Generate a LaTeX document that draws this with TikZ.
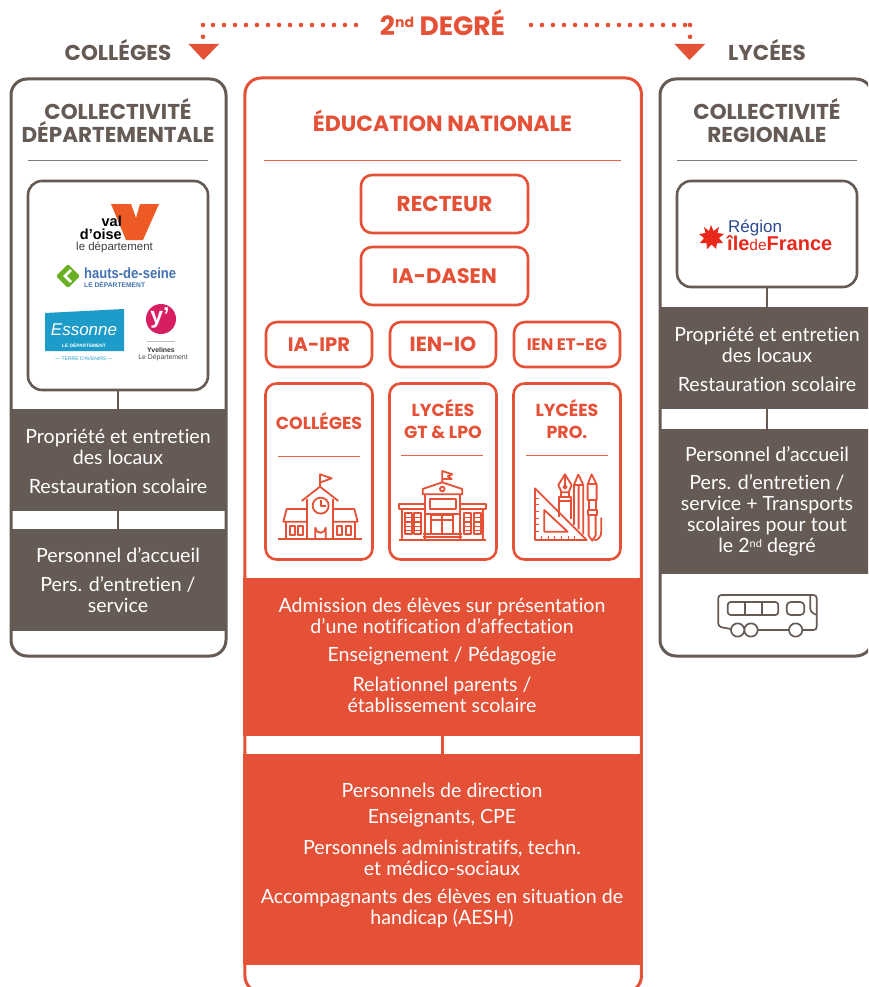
\documentclass[tikz,border=0pt]{standalone}
\usepackage{fontspec}
\setmainfont{Lato}[Ligatures=NoCommon]
\newfontfamily\hdf{Poppins}[BoldFont=Poppins Bold]
\newfontfamily\logof{Liberation Sans}
\definecolor{org}{HTML}{E55137}
\definecolor{brn}{HTML}{655A54}
\definecolor{hdsgreen}{HTML}{6AB023}
\definecolor{hdsblue}{HTML}{4472B4}
\definecolor{essblue}{HTML}{1E9CC9}
\definecolor{yvpink}{HTML}{D81E63}
\definecolor{idfred}{HTML}{E8281A}
\definecolor{idfblue}{HTML}{2E4A8E}
\definecolor{vofor}{HTML}{EE5A24}
\tikzset{
  bigbox/.style={draw=#1,line width=3pt,rounded corners=16pt,fill=white,inner sep=0pt,outer sep=0pt},
  orgbox/.style={draw=org,line width=2.6pt,rounded corners=11pt,fill=white,inner sep=0pt,outer sep=0pt,text=org,font=\hdf\bfseries\fontsize{20.5}{22}\selectfont,align=center},
  cardtext/.style={text=org,font=\hdf\bfseries\fontsize{17.4}{22}\selectfont,align=center,inner sep=0pt},
  logobox/.style={draw=brn,line width=2.6pt,rounded corners=14pt,fill=white,inner sep=0pt,outer sep=0pt},
  band/.style={fill=#1,inner sep=0pt,outer sep=0pt},
  body/.style={text=white,font=\fontsize{19.6}{21}\selectfont,align=center,inner sep=0pt},
  head/.style={text=#1,font=\hdf\bfseries\fontsize{21.5}{23}\selectfont,align=center,inner sep=0pt},
  rulerb/.style={draw=brn!80,line width=1pt},
  ruleo/.style={draw=org!90,line width=1pt},
  link/.style={draw=#1,line width=2.5pt},
  dotl/.style={draw=org,line width=4.6pt,line cap=round,dash pattern=on 0pt off 11pt},
  dotd/.style={draw=org,line width=4.6pt,line cap=round,dash pattern=on 0pt off 11.8pt},
  icon/.style={draw=org,line width=1.8pt,line join=round},
  busicon/.style={draw=brn,line width=1.7pt,line join=round},
}
\begin{document}
\begin{tikzpicture}[x=1pt,y=-1pt]
\path[use as bounding box,clip] (0,0) rectangle (868,987);
\fill[white] (0,0) rectangle (868,987);
% top
\node[text=org,font=\hdf\bfseries\fontsize{26.5}{28}\selectfont,inner sep=0pt] (deg) at (442.5,23) {2\raisebox{8pt}{\fontsize{14}{14}\selectfont nd} DEGRÉ};
\coordinate (ld) at (356,25); \coordinate (lc) at (203,25); \coordinate (le) at (203,37);
\coordinate (rd) at (531,25); \coordinate (rc) at (690,25); \coordinate (re) at (690,37);
\draw[dotl] (ld) -- (lc);
\draw[dotl] (rd) -- (rc);
\draw[dotd] (lc) -- (le);
\draw[dotd] (rc) -- (re);
\fill[org] (188.5,44) -- (219,44) -- (203.5,60) -- cycle;
\fill[org] (674.5,44) -- (705,44) -- (689.5,60) -- cycle;
\node[head=brn] (tc) at (118,50.5) {COLLÉGES};
\node[head=brn] (tl) at (767,50.5) {LYCÉES};
% big boxes
\node[bigbox=brn,minimum width=215pt,minimum height=577pt] (bl) at (118.5,367.5) {};
\node[bigbox=org,minimum width=396.5pt,minimum height=914pt] (bc) at (443.2,535) {};
\node[bigbox=brn,minimum width=212pt,minimum height=577pt] (br) at (766,367.5) {};
% left column
\node[head=brn] (hl) at (118,121) {COLLECTIVITÉ\\DÉPARTEMENTALE};
\draw[rulerb] (28,161) -- (208,161);
\node[logobox,minimum width=180pt,minimum height=209pt] (ll) at (118,285.5) {};
\node[band=brn,minimum width=216pt,minimum height=102pt] (b1) at (119,460) {};
\node[band=brn,minimum width=216pt,minimum height=102pt] (b2) at (119,580) {};
\draw[link=brn] (ll.south -| 118,0) -- (118,409);
\draw[link=brn] (118,511) -- (118,529);
\node[body] (t1) at (118,447) {Propriété et entretien\\des locaux};
\node[body] (t2) at (118,486.5) {Restauration scolaire};
\node[body] (t3) at (118,555) {Personnel d’accueil};
\node[body] (t4) at (118,595) {Pers. d’entretien /\\service};
% right column
\node[head=brn] (hr) at (767,121) {COLLECTIVITÉ\\REGIONALE};
\draw[rulerb] (677,161) -- (857,161);
\node[logobox,minimum width=180pt,minimum height=106pt] (lr) at (767,234) {};
\node[band=brn,minimum width=210pt,minimum height=102pt] (b3) at (765,358) {};
\node[band=brn,minimum width=210pt,minimum height=145pt] (b4) at (765,501.5) {};
\draw[link=brn] (lr.south) -- (b3.north -| lr.south);
\draw[link=brn] (767,409) -- (767,429);
\node[body] (t5) at (767,344.5) {Propriété et entretien\\des locaux};
\node[body] (t6) at (767,384) {Restauration scolaire};
\node[body] (t7) at (767,454) {Personnel d’accueil};
\node[body] (t8) at (767,515.5) {Pers. d’entretien /\\service + Transports\\scolaires pour tout\\le 2\raisebox{5pt}{\fontsize{11}{11}\selectfont nd} degré};
% centre column
\node[head=org,font=\hdf\bfseries\fontsize{22}{23}\selectfont] (hc) at (442.5,120.5) {ÉDUCATION NATIONALE};
\draw[ruleo] (264,161) -- (621,161);
\node[orgbox,minimum width=167pt,minimum height=58pt,font=\hdf\bfseries\fontsize{21.5}{22}\selectfont] (rec) at (444.5,204) {RECTEUR};
\node[orgbox,minimum width=167pt,minimum height=58pt,font=\hdf\bfseries\fontsize{21}{22}\selectfont] (ia) at (444.5,276) {IA-DASEN};
\node[orgbox,minimum width=106pt,minimum height=45pt,font=\hdf\bfseries\fontsize{19.5}{22}\selectfont] (n1) at (319,344.5) {IA-IPR};
\node[orgbox,minimum width=106pt,minimum height=45pt] (n2) at (443,344.5) {IEN-IO};
\node[orgbox,minimum width=106pt,minimum height=45pt,font=\hdf\bfseries\fontsize{16.7}{18}\selectfont] (n3) at (567,344.5) {IEN ET-EG};
\node[orgbox,minimum width=107pt,minimum height=176pt] (c1) at (319,471.5) {};
\node[orgbox,minimum width=107pt,minimum height=176pt] (c2) at (443,471.5) {};
\node[orgbox,minimum width=107pt,minimum height=176pt] (c3) at (567,471.5) {};
\node[cardtext] (c1t) at (319,421.5) {COLLÉGES};
\node[cardtext] (c2t) at (443,419.5) {LYCÉES\\GT \& LPO};
\node[cardtext] (c3t) at (567,419.5) {LYCÉES\\PRO.};
\draw[ruleo] (278,456) -- (360,456);
\draw[ruleo] (401,455) -- (483,455);
\draw[ruleo] (526,455) -- (608,455);
\node[band=org,minimum width=400pt,minimum height=158pt] (b5) at (443,657) {};
\node[band=org,minimum width=400pt,minimum height=211pt] (b6) at (443,859.5) {};
\draw[link=org] (b5.south -| 442.5,0) -- (442.5,754);
\node[body] (t9) at (442,616) {Admission des élèves sur présentation\\d’une notification d’affectation};
\node[body] (t10) at (442,656.5) {Enseignement / Pédagogie};
\node[body] (t11) at (442,695) {Relationnel parents /\\établissement scolaire};
\node[body] (t12) at (442,790) {Personnels de direction};
\node[body] (t13) at (442,818.5) {Enseignants, CPE};
\node[body] (t14) at (442,858) {Personnels administratifs, techn.\\et médico-sociaux};
\node[body] (t15) at (442,908.5) {Accompagnants des élèves en situation de\\handicap (AESH)};
% school icon
\begin{scope}[shift={(255,375)},x=0.3333pt,y=-0.3333pt]
\draw[icon,line width=2pt] (70,492) -- (320,492);
\draw[icon] (157,372) -- (157,492) (235,372) -- (235,492);
\draw[icon] (140,378) -- (195,335) -- (250,378);
\draw[icon] (195,335) -- (195,298) -- (230,310) -- (197,322);
\draw[icon] (197,392) circle (24);
\draw[icon] (197,376) -- (197,394) -- (212,394);
\draw[icon] (181,490) -- (181,458) arc (180:0:15.5) -- (212,490);
\draw[icon] (157,402) -- (95,402) -- (85,440) -- (157,440);
\draw[icon] (92,440) -- (92,492);
\draw[icon] (105,453) rectangle (120,480) (130,453) rectangle (145,480);
\draw[icon] (235,402) -- (298,402) -- (308,440) -- (235,440);
\draw[icon] (300,440) -- (300,492);
\draw[icon] (247,453) rectangle (262,480) (272,453) rectangle (287,480);
% lycee icon
\draw[icon,line width=2.2pt] (432,495) -- (692,495);
\draw[icon] (510,358) -- (510,495) (615,358) -- (615,495);
\draw[icon] (503,358) -- (503,342) -- (562,322) -- (622,342) -- (622,358) -- cycle;
\draw[icon] (562,322) -- (562,288) -- (592,298) -- (578,304) -- (590,312) -- (563,312);
\draw[icon] (562,342) circle (7);
\draw[icon] (525,373) rectangle (603,403);
\draw[icon] (510,418) -- (615,418);
\draw[icon] (528,420) rectangle (595,478);
\draw[icon] (562,420) -- (562,478) (528,435) -- (595,435);
\draw[icon] (505,478) -- (620,478) (505,487) -- (620,487);
\draw[icon] (510,388) -- (432,388) -- (432,402) -- (510,402);
\draw[icon] (615,388) -- (692,388) -- (692,402) -- (615,402);
\draw[icon] (440,402) -- (440,495) (685,402) -- (685,495);
\foreach \xa in {450,478,628,656}{
  \draw[icon] (\xa,415) rectangle (\xa+21,478);
  \foreach \ya in {428,441,454,466}{\draw[icon,line width=1.2pt] (\xa,\ya) -- (\xa+21,\ya);}
}
% tools icon
\draw[icon] (840,340) -- (995,495) -- (840,495) -- cycle;
\draw[icon] (868,405) -- (938,470) -- (868,470) -- cycle;
\foreach \xa in {860,880,900,920,940,960}{\draw[icon,line width=1pt] (\xa,495) -- (\xa,482);}
\foreach \ya in {370,390,410,430,450,470}{\draw[icon,line width=1pt] (840,\ya) -- (852,\ya);}
\draw[icon] (930,298) -- (910,330) -- (920,352) -- (941,352) -- (950,330) -- cycle;
\draw[icon] (930,298) -- (930,330) (930,336) circle (5);
\draw[icon] (913,366) rectangle (948,378) (918,352) -- (918,366) (943,352) -- (943,366);
\draw[icon] (913,378) -- (913,425) (948,378) -- (948,432);
\draw[icon] (970,298) -- (957,330) -- (957,450) (970,298) -- (985,330) -- (985,478) (957,330) -- (985,330) (971,330) -- (971,463);
\draw[icon] (1010,298) -- (998,328) -- (998,375) -- (1025,375) -- (1025,328) -- cycle;
\draw[icon] (998,328) -- (1025,328);
\draw[icon] (1001,375) -- (1001,405) (1022,375) -- (1022,405);
\draw[icon] (998,405) rectangle (1025,420);
\draw[icon] (1001,420) -- (1001,482) -- (1012,497) -- (1022,482) -- (1022,420);
\draw[icon] (1039,428) -- (1039,470) .. controls (1039,485) and (1030,495) .. (1018,496);
\end{scope}
% bus icon
\begin{scope}[shift={(660,570)},x=0.3333pt,y=-0.3333pt]
\draw[busicon,rounded corners=3pt] (213,177) -- (175,170) -- (175,75) -- (470,75) -- (470,180) -- (428,180);
\draw[busicon] (386,180) -- (293,180);
\draw[busicon] (233,180) circle (20) (273,180) circle (20) (407,180) circle (20);
\draw[busicon,rounded corners=3pt] (203,96) rectangle (355,135);
\draw[busicon] (255,96) -- (255,135) (305,96) -- (305,135);
\draw[busicon,rounded corners=4pt] (380,96) rectangle (433,135);
\draw[busicon,rounded corners=3pt] (451,76) -- (451,125) -- (470,135);
\end{scope}
% Val d'Oise logo
\fill[vofor] (111,204) -- (131,204) -- (136,218) -- (140,204) -- (159,204) -- (143,240) -- (126,240) -- cycle;
\node[font=\logof\bfseries\fontsize{14.5}{13}\selectfont,align=right,anchor=south east,inner sep=0pt] (vo1) at (122,240) {val\\d’oise};
\node[font=\logof\fontsize{11.5}{12}\selectfont,text=black!75,anchor=north west,inner sep=0pt] (vo3) at (76,241.5) {le département};
% Hauts-de-Seine logo
\fill[hdsgreen,rounded corners=1.5pt] (68,264) -- (80,276) -- (68,288) -- (56,276) -- cycle;
\draw[white,line width=2.6pt] (71,270) -- (65,276) -- (71,282);
\node[font=\logof\bfseries\fontsize{14.8}{15}\selectfont,text=hdsblue,anchor=west,inner sep=0pt,xscale=.88] (hs1) at (84,273) {hauts-de-seine};
\node[font=\logof\bfseries\fontsize{6.7}{7}\selectfont,text=hdsblue,anchor=west,inner sep=0pt] (hs2) at (84,285) {LE DÉPARTEMENT};
% Essonne logo
\fill[essblue] (45,313) -- (124,309) -- (124,351) -- (45,351) -- cycle;
\node[font=\logof\itshape\fontsize{17}{17}\selectfont,text=white,inner sep=0pt] (es1) at (84,330) {Essonne};
\node[font=\logof\bfseries\fontsize{4.8}{5}\selectfont,text=white,inner sep=0pt] (es2) at (84,345) {LE DÉPARTEMENT};
\node[font=\logof\fontsize{5}{5}\selectfont,text=essblue,inner sep=0pt] (es3) at (84,358.5) {— TERRE D’AVENIRS —};
% Yvelines logo
\fill[yvpink] (161,319) circle (15);
\node[font=\logof\bfseries\fontsize{23}{23}\selectfont,text=white,inner sep=0pt] (yv0) at (160,318) {y’};
\draw[black!25,line width=.6pt] (147,341) -- (175,341);
\node[font=\logof\bfseries\fontsize{6.9}{7}\selectfont,text=black!80,inner sep=0pt] (yv1) at (161,350) {Yvelines};
\node[font=\logof\fontsize{6.9}{7}\selectfont,text=black!70,inner sep=0pt] (yv2) at (163,358) {Le Département};
% Ile-de-France logo
\fill[idfred] (711,225) -- (713.5,231) -- (719,227) -- (717.5,233) -- (724,234) -- (719,238) -- (723,243) -- (717,243) -- (716,249) -- (711.5,244.5) -- (707,249) -- (706.5,243) -- (700,243) -- (704,238) -- (699,234) -- (705.5,233) -- (704,227) -- (709,231) -- cycle;
\node[font=\logof\fontsize{17}{17}\selectfont,text=idfblue,anchor=west,inner sep=0pt] (rg1) at (728,228.5) {Région};
\node[font=\logof\bfseries\fontsize{20}{20}\selectfont,text=idfred,anchor=west,inner sep=0pt] (rg2) at (727,243) {île{\fontsize{15.5}{15}\selectfont\mdseries de}France};
\end{tikzpicture}
\end{document}
